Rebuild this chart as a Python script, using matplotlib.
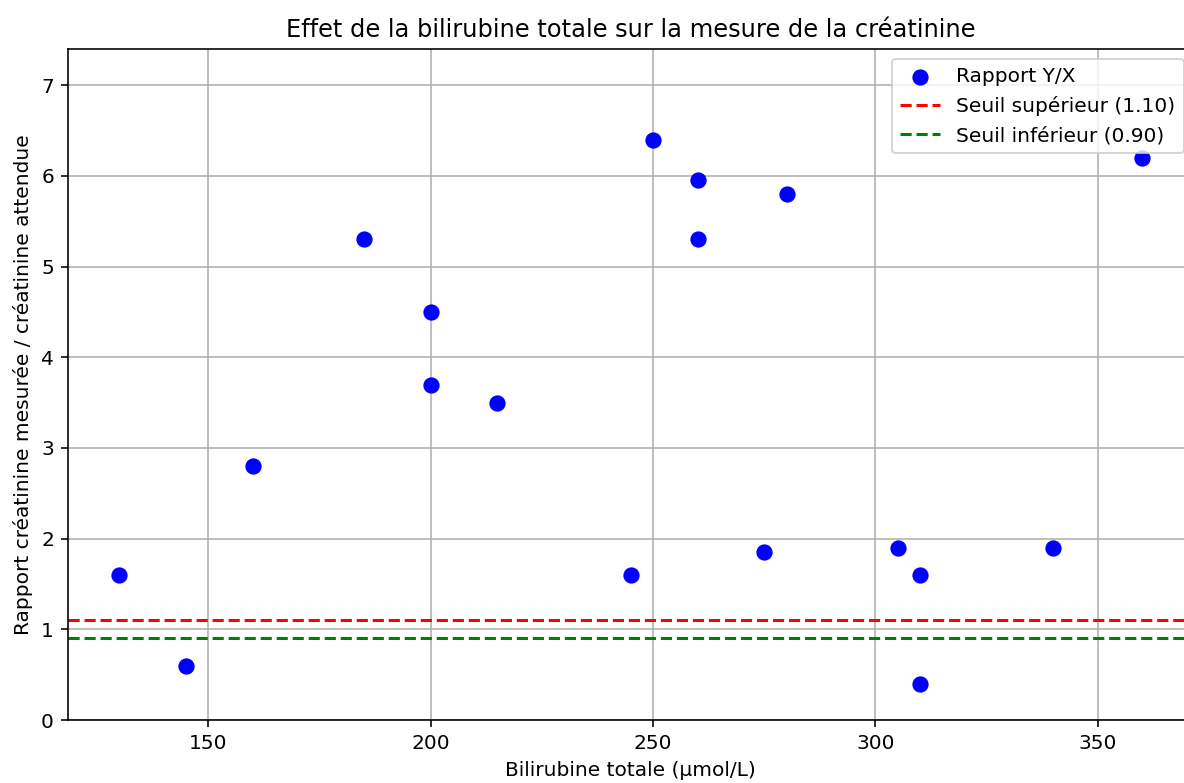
import matplotlib
matplotlib.use("Agg")
import matplotlib.pyplot as plt

# bilirubine totale (umol/L) et rapport mesuree / attendue
bilirubine = [130, 145, 160, 185, 200, 200, 215, 245, 250, 260, 260, 275, 280, 305, 310, 310, 340, 360]
rapport = [1.6, 0.6, 2.8, 5.3, 4.5, 3.7, 3.5, 1.6, 6.4, 5.95, 5.3, 1.85, 5.8, 1.9, 1.6, 0.4, 1.9, 6.2]

seuil_sup = 1.10
seuil_inf = 0.90

dpi = 145
fig = plt.figure(figsize=(1184 / dpi, 783 / dpi), dpi=dpi)
# l'axe depasse a droite comme dans l'image d'origine (recadree)
ax = fig.add_axes([68 / 1184, 63 / 783, 1125.6 / 1184, 671 / 783])

ax.scatter(bilirubine, rapport, color='blue', s=50, label='Rapport Y/X', zorder=3)
ax.axhline(seuil_sup, color='red', linestyle='--', label='Seuil supérieur (%.2f)' % seuil_sup)
ax.axhline(seuil_inf, color='green', linestyle='--', label='Seuil inférieur (%.2f)' % seuil_inf)

ax.set_ylim(0, max(rapport) + 1)
ax.set_xlabel('Bilirubine totale (µmol/L)')
ax.set_ylabel('Rapport créatinine mesurée / créatinine attendue')
ax.set_title('Effet de la bilirubine totale sur la mesure de la créatinine')
ax.grid(True)
ax.legend(loc='upper right')

fig.savefig('out.png', dpi=dpi)
